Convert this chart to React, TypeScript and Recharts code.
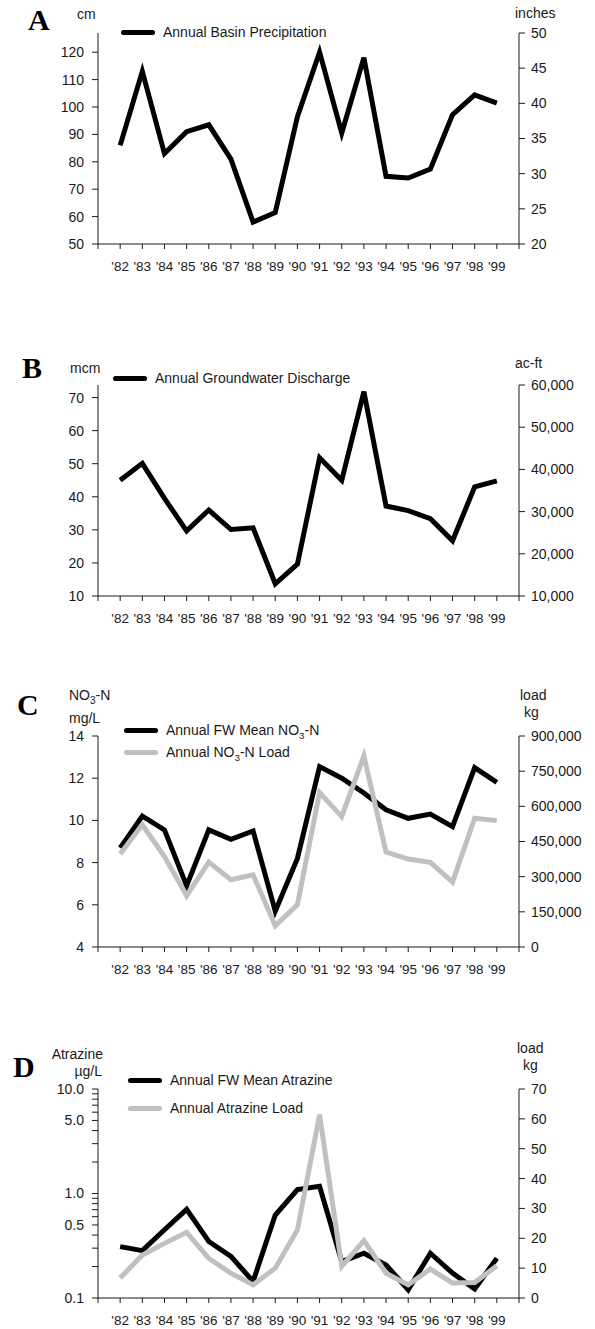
import { LineChart, Line, XAxis, YAxis, Legend } from 'recharts';

// water years shown on every panel
const years = [1982, 1983, 1984, 1985, 1986, 1987, 1988, 1989, 1990, 1991, 1992, 1993, 1994, 1995, 1996, 1997, 1998, 1999];
const yearTicks = [1981, 1982, 1983, 1984, 1985, 1986, 1987, 1988, 1989, 1990, 1991, 1992, 1993, 1994, 1995, 1996, 1997, 1998, 1999, 2000];

// A - precipitation
const precipCm = [86, 113, 83, 91, 93.5, 81, 58, 61.5, 96.5, 120, 90.5, 118, 74.7, 74.1, 77.3, 97.2, 104.4, 101.4];
const cmTicks = [50, 60, 70, 80, 90, 100, 110, 120];
const inchTicks = [20, 25, 30, 35, 40, 45, 50];

// B - groundwater discharge
const dischargeMcm = [45, 50.1, 39.5, 29.7, 36, 30.1, 30.6, 13.7, 19.6, 51.8, 45, 71.8, 37.2, 35.8, 33.4, 26.7, 43, 44.8];
const mcmTicks = [10, 20, 30, 40, 50, 60, 70];
const acftTicks = [10000, 20000, 30000, 40000, 50000, 60000];

// C - nitrate
const no3Mean = [8.7, 10.2, 9.55, 6.9, 9.55, 9.1, 9.5, 5.7, 8.2, 12.55, 12.0, 11.3, 10.5, 10.1, 10.3, 9.7, 12.5, 11.8];
const no3Load = [397000, 521000, 386000, 219000, 362000, 287000, 308000, 91000, 180000, 659000, 556000, 815000, 405000, 375000, 361000, 277000, 549000, 539000];
const mgTicks = [4, 6, 8, 10, 12, 14];
const no3KgTicks = [0, 150000, 300000, 450000, 600000, 750000, 900000];

// D - atrazine
const atzMean = [0.31, 0.284, 0.45, 0.705, 0.347, 0.25, 0.144, 0.622, 1.09, 1.17, 0.223, 0.268, 0.207, 0.12, 0.268, 0.173, 0.122, 0.24];
const atzLoad = [6.7, 14.4, 18.3, 22, 13.3, 8.3, 4.4, 10, 22.8, 61.4, 10.6, 19.2, 8.3, 4.4, 9.7, 5, 5.2, 10.8];
const ugTicks = [0.1, 0.2, 0.3, 0.4, 0.5, 0.6, 0.7, 0.8, 0.9, 1, 2, 3, 4, 5, 6, 7, 8, 9, 10];
const ugLabels = [0.1, 0.5, 1, 5, 10];
const atzKgTicks = [0, 10, 20, 30, 40, 50, 60, 70];

const FONT = '"Liberation Sans", Arial, Helvetica, sans-serif';
const INK = '#1a1a1a';
const GREY = '#c0c0c0';
const tickText = { fontFamily: FONT, fontSize: 14, fill: INK };

const fmtYear = (y: number) => (y < 1982 || y > 1999 ? '' : "'" + String(y).slice(2));
const fmtThousands = (v: number) => v.toLocaleString('en-US');
const fmtLog = (v: number) => (ugLabels.includes(v) ? v.toFixed(1) : '');

function chem(s: string) {
  const parts = s.split('NO3');
  return parts.map((p, i) => (
    <span key={i}>
      {i > 0 && (
        <>
          NO<sub style={{ fontSize: '0.7em', lineHeight: 0 }}>3</sub>
        </>
      )}
      {p}
    </span>
  ));
}

type Series = { key: string; name: string; color: string; axis: 'left' | 'right' };

// legend keeps the series order (recharts sorts by name otherwise)
function legendContent(rowH: number, lines: Series[]) {
  const order = lines.map((s) => s.name);
  return ({ payload }: any) => {
    const items = [...(payload || [])].sort((a: any, b: any) => order.indexOf(a.value) - order.indexOf(b.value));
    return (
      <div style={{ fontFamily: FONT, fontSize: 14, color: INK }}>
        {items.map((p: any) => (
          <div key={p.value} style={{ display: 'flex', alignItems: 'center', height: rowH }}>
            <span style={{ display: 'inline-block', width: 34, height: 5, borderRadius: 2.5, background: p.color, marginRight: 8 }} />
            <span style={{ whiteSpace: 'nowrap' }}>{chem(p.value)}</span>
          </div>
        ))}
      </div>
    );
  };
}

function Panel(props: any) {
  const { top, height, plotTop, plotBottom, rows, lines, left, right, legend } = props;
  const xh = 30;
  return (
    <div style={{ position: 'absolute', left: 0, top, width: 595, height }}>
      <LineChart
        width={595}
        height={height}
        data={rows}
        margin={{ top: plotTop - top, right: 6, bottom: top + height - plotBottom - xh, left: 38 }}
      >
        <XAxis
          dataKey="year"
          type="number"
          domain={[1981, 2000]}
          ticks={yearTicks}
          interval={0}
          allowDataOverflow
          tickFormatter={fmtYear}
          height={xh}
          tickSize={5}
          tickMargin={12}
          stroke={INK}
          tick={{ ...tickText, fontSize: 13.5 }}
        />
        <YAxis
          yAxisId="left"
          scale={left.scale || 'linear'}
          domain={left.domain}
          ticks={left.ticks}
          interval={0}
          allowDataOverflow
          tickFormatter={left.format}
          width={60}
          tickSize={6}
          tickMargin={8}
          stroke={INK}
          tick={tickText}
        />
        <YAxis
          yAxisId="right"
          orientation="right"
          type="number"
          domain={right.domain}
          ticks={right.ticks}
          interval={0}
          allowDataOverflow
          tickFormatter={right.format}
          width={70}
          tickSize={6}
          tickMargin={6}
          stroke={INK}
          tick={tickText}
        />
        <Legend
          layout="vertical"
          align="center"
          verticalAlign="middle"
          wrapperStyle={{ left: legend.left, top: legend.top, width: 'auto', height: 'auto' }}
          content={legendContent(legend.rowH, lines)}
        />
        {lines.map((s: Series) => (
          <Line
            key={s.key}
            yAxisId={s.axis}
            dataKey={s.key}
            name={s.name}
            type="linear"
            stroke={s.color}
            strokeWidth={5}
            dot={false}
            activeDot={false}
            isAnimationActive={false}
          />
        ))}
      </LineChart>
    </div>
  );
}

const rowsA = years.map((year, i) => ({ year, precip: precipCm[i] }));
const rowsB = years.map((year, i) => ({ year, discharge: dischargeMcm[i] }));
const rowsC = years.map((year, i) => ({ year, mean: no3Mean[i], load: no3Load[i] }));
const rowsD = years.map((year, i) => ({ year, mean: atzMean[i], load: atzLoad[i] }));

const unit = { fontFamily: FONT, fontSize: 14, fill: INK };
const head = { fontFamily: '"Liberation Serif", "Times New Roman", serif', fontSize: 30, fontWeight: 700, fill: '#000' };

export default function App() {
  return (
    <div style={{ position: 'absolute', left: 0, top: 0, width: 595, height: 1329, background: '#fff', overflow: 'hidden' }}>
      <Panel
        top={0}
        height={290}
        plotTop={33}
        plotBottom={244}
        rows={rowsA}
        lines={[{ key: 'precip', name: 'Annual Basin Precipitation', color: '#000', axis: 'left' }]}
        left={{ domain: [50, 127], ticks: cmTicks }}
        right={{ domain: [20, 50], ticks: inchTicks }}
        legend={{ left: 121, top: 22, rowH: 20 }}
      />
      <Panel
        top={330}
        height={300}
        plotTop={385}
        plotBottom={596}
        rows={rowsB}
        lines={[{ key: 'discharge', name: 'Annual Groundwater Discharge', color: '#000', axis: 'left' }]}
        left={{ domain: [10, 73.8], ticks: mcmTicks }}
        right={{ domain: [10000, 60000], ticks: acftTicks, format: fmtThousands }}
        legend={{ left: 113, top: 38, rowH: 20 }}
      />
      <Panel
        top={660}
        height={320}
        plotTop={736}
        plotBottom={947}
        rows={rowsC}
        lines={[
          { key: 'mean', name: 'Annual FW Mean NO3-N', color: '#000', axis: 'left' },
          { key: 'load', name: 'Annual NO3-N Load', color: GREY, axis: 'right' },
        ]}
        left={{ domain: [4, 14], ticks: mgTicks }}
        right={{ domain: [0, 900000], ticks: no3KgTicks, format: fmtThousands }}
        legend={{ left: 124, top: 59, rowH: 22 }}
      />
      <Panel
        top={1000}
        height={329}
        plotTop={1089}
        plotBottom={1298}
        rows={rowsD}
        lines={[
          { key: 'mean', name: 'Annual FW Mean Atrazine', color: '#000', axis: 'left' },
          { key: 'load', name: 'Annual Atrazine Load', color: GREY, axis: 'right' },
        ]}
        left={{ scale: 'log', domain: [0.1, 10], ticks: ugTicks, format: fmtLog }}
        right={{ domain: [0, 70], ticks: atzKgTicks }}
        legend={{ left: 128, top: 66, rowH: 28 }}
      />
      <svg width={595} height={1329} style={{ position: 'absolute', left: 0, top: 0, pointerEvents: 'none' }}>
        <text x={28} y={30} style={head}>A</text>
        <text x={77} y={19} style={unit}>cm</text>
        <text x={515} y={18} style={unit}>inches</text>

        <text x={22} y={378} style={head}>B</text>
        <text x={70} y={373} style={unit}>mcm</text>
        <text x={515} y={368} style={unit}>ac-ft</text>

        <text x={17} y={715} style={head}>C</text>
        <text x={69} y={700} style={unit}>
          NO<tspan fontSize={10} dy={4}>3</tspan>
          <tspan dy={-4}>-N</tspan>
        </text>
        <text x={69} y={723} style={unit}>mg/L</text>
        <text x={520} y={700} style={unit}>load</text>
        <text x={524} y={717} style={unit}>kg</text>

        <text x={13} y={1077} style={head}>D</text>
        <text x={103} y={1059} textAnchor="end" style={unit}>Atrazine</text>
        <text x={102} y={1076} textAnchor="end" style={unit}>µg/L</text>
        <text x={517} y={1053} style={unit}>load</text>
        <text x={523} y={1070} style={unit}>kg</text>
      </svg>
    </div>
  );
}
